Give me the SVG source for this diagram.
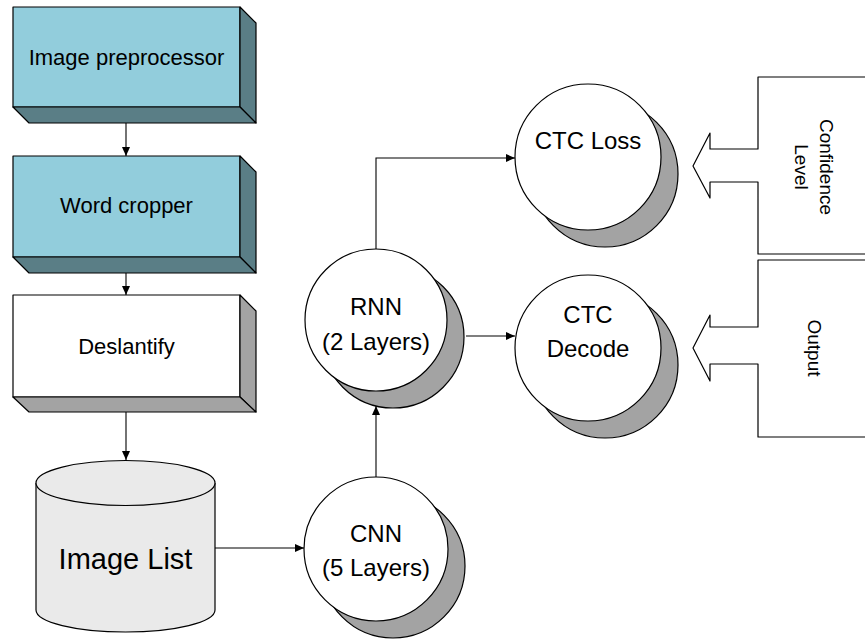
<svg xmlns="http://www.w3.org/2000/svg" width="865" height="639" viewBox="0 0 865 639">
<style>
text{font-family:"Liberation Sans",Arial,sans-serif;fill:#000;text-anchor:middle}
.ln{stroke:#000;stroke-width:1.2;stroke-linejoin:round}
.blue{fill:#92CDDC}
.dark{fill:#5A7E86}
.white{fill:#fff}
.grey{fill:#A3A3A3}
.conn{fill:none;stroke:#000;stroke-width:1.1}
.bt{font-size:22px}
.ct{font-size:24px}
.rt{font-size:19px}
</style>
<defs>
<marker id="ah" markerWidth="10" markerHeight="8" refX="9" refY="4" orient="auto" markerUnits="userSpaceOnUse">
<path d="M0,0 L9,4 L0,8 Z" fill="#000"/>
</marker>
</defs>

<g id="image-preprocessor">
<rect class="ln blue" x="13" y="7" width="227" height="100"/>
<polygon class="ln dark" points="240,7 256,23 256,123 240,107"/>
<polygon class="ln dark" points="13,107 240,107 256,123 29,123"/>
<text class="bt" x="126.5" y="65">Image preprocessor</text>
</g>

<g id="word-cropper">
<rect class="ln blue" x="13" y="156" width="227" height="101"/>
<polygon class="ln dark" points="240,156 256,172 256,273 240,257"/>
<polygon class="ln dark" points="13,257 240,257 256,273 29,273"/>
<text class="bt" x="126.5" y="213">Word cropper</text>
</g>

<g id="deslantify">
<rect class="ln white" x="13" y="295" width="227" height="102"/>
<polygon class="ln grey" points="240,295 256,311 256,412 240,397"/>
<polygon class="ln grey" points="13,397 240,397 256,412 29,412"/>
<text class="bt" x="126.5" y="354">Deslantify</text>
</g>

<g id="image-list">
<path class="ln" fill="#EAEAEA" d="M36,483 V610 A89.5,22 0 0 0 215,610 V483"/>
<ellipse class="ln" fill="#EAEAEA" cx="125.5" cy="483" rx="89.5" ry="22.5"/>
<text x="125.5" y="569" style="font-size:29px">Image List</text>
</g>

<g id="cnn">
<circle class="ln grey" cx="393" cy="566" r="72"/>
<circle class="ln white" cx="376" cy="549" r="72"/>
<text class="ct" x="376" y="542">CNN</text>
<text class="ct" x="376" y="576">(5 Layers)</text>
</g>

<g id="rnn">
<circle class="ln grey" cx="393" cy="337" r="71"/>
<circle class="ln white" cx="376" cy="320" r="71"/>
<text class="ct" x="376" y="315">RNN</text>
<text class="ct" x="376" y="350">(2 Layers)</text>
</g>

<g id="ctc-loss">
<circle class="ln grey" cx="605" cy="174" r="73"/>
<circle class="ln white" cx="588" cy="157" r="73"/>
<text class="ct" x="588" y="149">CTC Loss</text>
</g>

<g id="ctc-decode">
<circle class="ln grey" cx="605" cy="365" r="73"/>
<circle class="ln white" cx="588" cy="348" r="73"/>
<text class="ct" x="588" y="323">CTC</text>
<text class="ct" x="588" y="357">Decode</text>
</g>

<g id="confidence-level">
<path class="ln white" d="M867,77 H758 V149 H710 V133 L693,166 L710,198 V182 H758 V254 H867"/>
<g transform="translate(814,167) rotate(90)">
<text class="rt" x="0" y="-6">Confidence</text>
<text class="rt" x="0" y="19">Level</text>
</g>
</g>

<g id="output">
<path class="ln white" d="M867,260 H758 V327 H710 V315 L693,348 L710,381 V364 H758 V437 H867"/>
<g transform="translate(814,348) rotate(90)">
<text class="rt" x="0" y="6">Output</text>
</g>
</g>

<g id="connectors">
<path class="conn" d="M126,123 V156" marker-end="url(#ah)"/>
<path class="conn" d="M126,273 V295" marker-end="url(#ah)"/>
<path class="conn" d="M126,412 V460" marker-end="url(#ah)"/>
<path class="conn" d="M215,548 H304" marker-end="url(#ah)"/>
<path class="conn" d="M376,477 V406" marker-end="url(#ah)"/>
<path class="conn" d="M376,249 V158 H515" marker-end="url(#ah)"/>
<path class="conn" d="M466,336 H515" marker-end="url(#ah)"/>
</g>
</svg>
